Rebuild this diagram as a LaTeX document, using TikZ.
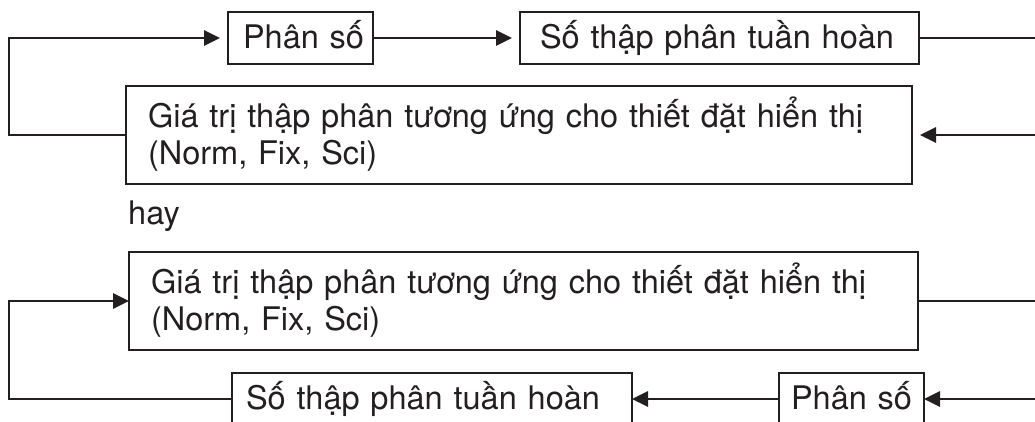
\documentclass[tikz,border=0pt]{standalone}
\usepackage{fontspec}
\setmainfont{TeX Gyre Heros}
\usetikzlibrary{arrows.meta}
\definecolor{ink}{RGB}{35,31,32}
\begin{document}
\begin{tikzpicture}[x=1pt,y=-1pt,
  font=\fontsize{32.5}{37}\selectfont,
  every node/.style={text=ink},
  box/.style={draw=ink, line width=2.8pt, outer sep=0pt, inner ysep=0pt,
    anchor=north west, align=left, text height=36pt, text depth=16pt},
  bigbox/.style={box, text height=41pt, text depth=57pt},
  conn/.style={draw=ink, line width=2.8pt},
  arr/.style={conn, -{Triangle[length=16pt,width=15pt]}}]
\useasboundingbox (0,0) rectangle (1035,421);
\clip (0,0) rectangle (1035,421);
% top variant
\node[box, inner xsep=15pt, text width=115pt] (A) at (228,12) {\mbox{Phân số}};
\node[box, inner xsep=20pt, text width=359pt] (B) at (520,12) {\mbox{Số thập phân tuần hoàn}};
\node[bigbox, inner xsep=22pt, text width=742pt] (C) at (126,86)
  {\mbox{Giá trị thập phân tương ứng cho thiết đặt hiển thị}\\\mbox{(Norm, Fix, Sci)}};
\coordinate (L1) at (9,135);
\coordinate (R1) at (1040,38);
\coordinate (R2) at (1040,135);
\draw[arr, shorten >=8pt] (C.west) -- (L1) |- (A.west);
\draw[arr, shorten >=8pt] (A.east) -- (B.west);
\draw[conn] (B.east) -- (R1);
\draw[arr, shorten >=8pt] (R2) -- (C.east);
% separator
\node[anchor=base west, inner sep=0pt] (hay) at (128,224) {hay};
% bottom variant
\node[bigbox, inner xsep=22pt, text width=745pt] (D) at (129,252)
  {\mbox{Giá trị thập phân tương ứng cho thiết đặt hiển thị}\\\mbox{(Norm, Fix, Sci)}};
\node[box, inner xsep=14pt, text width=372pt] (E) at (232,373) {\mbox{Số thập phân tuần hoàn}};
\node[box, inner xsep=12pt, text width=121pt] (F) at (779,373) {\mbox{Phân số}};
\coordinate (L2) at (9,399);
\coordinate (R3) at (1040,301);
\coordinate (R4) at (1040,399);
\draw[conn] (D.east) -- (R3);
\draw[arr] (R4) -- (F.east);
\draw[arr] (F.west) -- (E.east);
\draw[arr] (E.west) -- (L2) |- (D.west);
\end{tikzpicture}
\end{document}
